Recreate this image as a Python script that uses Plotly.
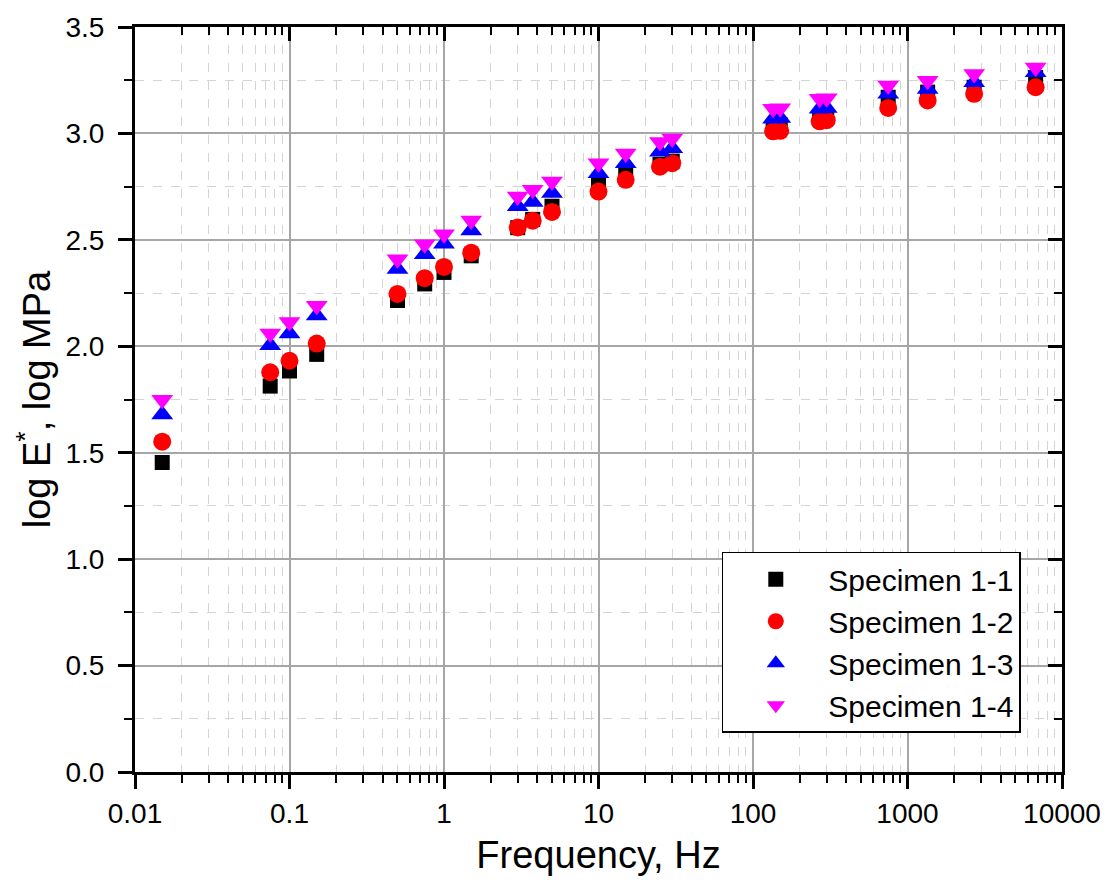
import plotly.graph_objects as go

# Loading frequency (Hz) and dynamic modulus (log E*, log MPa) per specimen
frequency = [0.015, 0.075, 0.1, 0.15, 0.5, 0.75, 1, 1.5, 3, 3.75, 5, 10, 15, 25, 30,
             135, 150, 270, 300, 750, 1350, 2700, 6750]

specimen_1_1 = [1.454, 1.813, 1.884, 1.962, 2.215, 2.293, 2.347, 2.425, 2.557, 2.596, 2.658,
                2.759, 2.805, 2.855, 2.870, 3.030, 3.040, 3.070, 3.080, 3.170, 3.194, 3.217, 3.263]
specimen_1_2 = [1.552, 1.878, 1.932, 2.013, 2.246, 2.320, 2.373, 2.440, 2.558, 2.590, 2.631,
                2.727, 2.782, 2.844, 2.860, 3.010, 3.012, 3.057, 3.062, 3.120, 3.155, 3.186, 3.217]
specimen_1_3 = [1.679, 2.005, 2.060, 2.145, 2.363, 2.432, 2.482, 2.544, 2.658, 2.678, 2.720,
                2.813, 2.860, 2.914, 2.930, 3.069, 3.072, 3.116, 3.120, 3.186, 3.209, 3.240, 3.287]
specimen_1_4 = [1.749, 2.060, 2.114, 2.190, 2.409, 2.479, 2.526, 2.591, 2.704, 2.735, 2.774,
                2.860, 2.906, 2.960, 2.976, 3.116, 3.118, 3.163, 3.165, 3.225, 3.248, 3.279, 3.310]

names = ["Specimen 1-1", "Specimen 1-2", "Specimen 1-3", "Specimen 1-4"]
series = [specimen_1_1, specimen_1_2, specimen_1_3, specimen_1_4]
symbols = ["square", "circle", "triangle-up", "triangle-down"]
colors = ["#000000", "#FF0000", "#0000FF", "#FF00FF"]
sizes = [15, 18, 19, 19]

x_tick_vals = [0.01, 0.1, 1, 10, 100, 1000, 10000]
x_tick_text = ["0.01", "0.1", "1", "10", "100", "1000", "10000"]

FONT = "Liberation Sans, Arial, sans-serif"

fig = go.Figure()
for name, ys, sym, col, sz in zip(names, series, symbols, colors, sizes):
    fig.add_trace(go.Scatter(
        x=frequency, y=ys, mode="markers", name=name,
        marker=dict(symbol=sym, color=col, size=sz, line=dict(width=0)),
    ))

major_grid = "#a6a6a6"
minor_grid = "#d4d4d4"

fig.update_layout(
    width=1113, height=892,
    margin=dict(l=135, r=51, t=21, b=120),
    paper_bgcolor="white", plot_bgcolor="white",
    font=dict(family=FONT, color="black", size=28),
    xaxis=dict(
        type="log", range=[-2, 4],
        tickvals=x_tick_vals, ticktext=x_tick_text,
        ticks="outside", ticklen=14, tickwidth=2.5, tickcolor="black",
        showline=True, linecolor="black", linewidth=3,
        showgrid=True, gridcolor=major_grid, gridwidth=1.5,
        zeroline=False,
        tickfont=dict(size=28),
        title=dict(text="Frequency, Hz", font=dict(size=38), standoff=14),
        minor=dict(dtick="D1", ticks="outside", ticklen=8, tickwidth=2, tickcolor="black",
                   showgrid=True, gridcolor=minor_grid, griddash="dash", gridwidth=1),
    ),
    yaxis=dict(
        range=[0, 3.5], dtick=0.5, tick0=0, tickformat=".1f",
        ticks="outside", ticklen=14, tickwidth=2.5, tickcolor="black",
        showline=True, linecolor="black", linewidth=3,
        showgrid=True, gridcolor=major_grid, gridwidth=1.5,
        zeroline=False,
        tickfont=dict(size=28), ticklabelstandoff=8,
        title=dict(text="log E<sup>*</sup>, log MPa", font=dict(size=38), standoff=4),
        minor=dict(dtick=0.25, ticks="outside", ticklen=8, tickwidth=2, tickcolor="black",
                   showgrid=True, gridcolor=minor_grid, griddash="dash", gridwidth=1),
    ),
    # mirrored frame on top and right with inward ticks
    xaxis2=dict(
        type="log", range=[-2, 4], overlaying="x", side="top", anchor="y",
        tickvals=x_tick_vals, showticklabels=False,
        ticks="inside", ticklen=14, tickwidth=2.5, tickcolor="black",
        showline=True, linecolor="black", linewidth=3, showgrid=False, zeroline=False,
        minor=dict(dtick="D1", ticks="inside", ticklen=8, tickwidth=2, tickcolor="black",
                   showgrid=False),
    ),
    yaxis2=dict(
        range=[0, 3.5], dtick=0.5, overlaying="y", side="right", anchor="x",
        showticklabels=False,
        ticks="inside", ticklen=14, tickwidth=2.5, tickcolor="black",
        showline=True, linecolor="black", linewidth=3, showgrid=False, zeroline=False,
        minor=dict(dtick=0.25, ticks="inside", ticklen=8, tickwidth=2, tickcolor="black",
                   showgrid=False),
    ),
    legend=dict(
        x=0.633, y=0.2956, xanchor="left", yanchor="top",
        bgcolor="white", bordercolor="black", borderwidth=1.5,
        font=dict(size=30, family=FONT), itemwidth=95,
    ),
    showlegend=True,
)

# invisible anchor trace so the mirrored axes are laid out
fig.add_trace(go.Scatter(x=frequency, y=specimen_1_1, xaxis="x2", yaxis="y2",
                         mode="markers", marker=dict(opacity=0), showlegend=False,
                         hoverinfo="skip"))

fig.write_html("out.html")
